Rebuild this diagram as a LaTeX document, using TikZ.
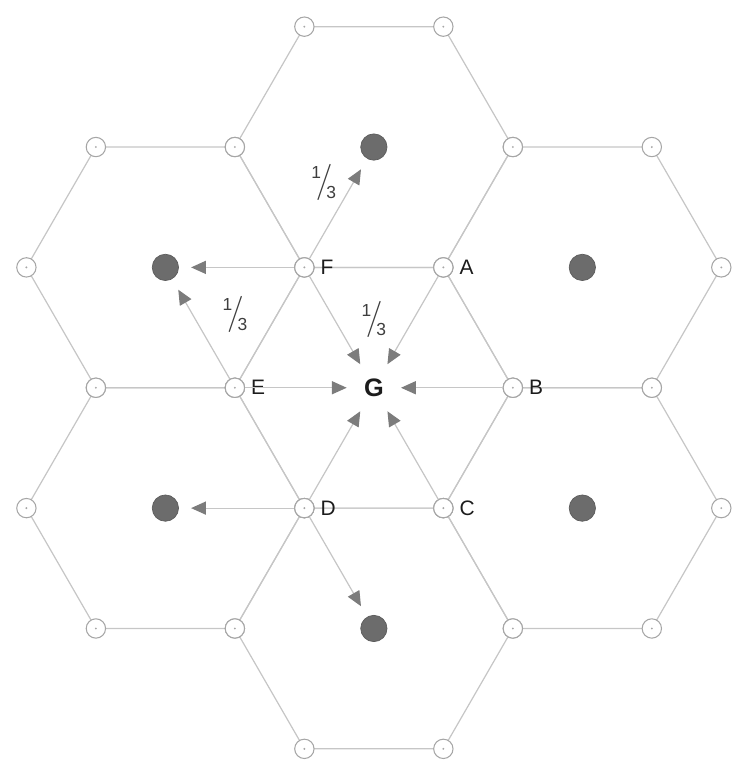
\documentclass[tikz,border=0pt]{standalone}
\usepackage{fontspec}
\setmainfont{Liberation Sans}
\usetikzlibrary{arrows.meta,calc}
\definecolor{hexline}{HTML}{C6C6C6}
\definecolor{hexring}{HTML}{A6A6A6}
\definecolor{hexdot}{HTML}{6C6C6C}
\definecolor{hextip}{HTML}{7C7C7C}
\definecolor{hexink}{HTML}{1C1C1C}
\newcommand{\third}{{\fontsize{10}{10}\selectfont\raisebox{7pt}{1}}\kern-3pt{\fontsize{20}{20}\selectfont$/$}\kern-3.5pt{\fontsize{10}{10}\selectfont\raisebox{-4pt}{3}}}
\tikzset{
  hexedge/.style={draw=hexline, line width=0.7pt},
  spoke/.style={draw=hexline, line width=0.7pt, -{Triangle[length=8.5pt, width=7.5pt, color=hextip]}},
  vtx/.style={circle, draw=hexring, fill=white, line width=0.6pt, minimum size=3.9mm, inner sep=0pt,
    path picture={\fill[hexring] (path picture bounding box.center) circle (0.6pt);}},
  ctr/.style={circle, draw=hexdot!85!black, fill=hexdot, minimum size=5.3mm, inner sep=0pt},
  lab/.style={font=\fontsize{12}{14}\selectfont, text=hexink},
  gnode/.style={circle, minimum size=10.8mm, inner sep=0pt, font=\fontsize{14.5}{16}\selectfont\bfseries, text=hexink},
  fraclab/.style={text=hexink!85, inner sep=0pt},
}

\begin{document}
\begin{tikzpicture}[x=2.8cm, y=2.8cm]
  \useasboundingbox (-2.69,-2.70) rectangle (2.655,2.79);
  \node[gnode] (G) at (0,0) {G};
  \foreach \a/\n in {30/cne,90/cn,150/cnw,210/csw,270/cs,330/cse}
    \node[ctr] (\n) at (\a:{sqrt(3)}) {};
  % seven cells
  \foreach \c in {G,cne,cn,cnw,csw,cs,cse}
    \draw[hexedge] (\c.center) ++(0:1) -- ++(120:1) -- ++(180:1) -- ++(240:1) -- ++(300:1) -- ++(0:1) -- cycle;
  \foreach \c in {cne,cn,cnw,csw,cs,cse}
    \foreach \a in {0,60,...,300}
      \node[vtx] (\c-\a) at ($(\c)+(\a:1)$) {};
  \foreach \a/\n in {0/B,60/A,120/F,180/E,240/D,300/C}
    \node[vtx, label={[lab]right:\n}] (\n) at (\a:1) {};
  % flows
  \foreach \n in {A,B,C,D,E,F}
    \draw[spoke] (\n) -- (G);
  \draw[spoke, shorten >=7pt] (F) -- (cn);
  \draw[spoke, shorten >=7pt] (F) -- (cnw);
  \draw[spoke, shorten >=7pt] (E) -- (cnw);
  \draw[spoke, shorten >=7pt] (D) -- (csw);
  \draw[spoke, shorten >=7pt] (D) -- (cs);
  \node[fraclab] (tn) at (-0.36,1.48) {\third};
  \node[fraclab] (tw) at (-1.0,0.53) {\third};
  \node[fraclab] (tg) at (0.0,0.49) {\third};
\end{tikzpicture}
\end{document}
